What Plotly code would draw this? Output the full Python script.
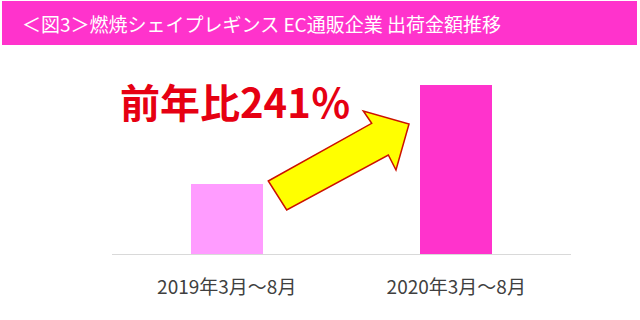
import plotly.graph_objects as go

categories = ["2019年3月～8月", "2020年3月～8月"]
values = [100, 241]
bar_colors = ["#ff9cff", "#ff33cc"]
title_text = "＜図3＞燃焼シェイプレギンス EC通販企業 出荷金額推移"
callout_text = "前年比241％"

W, H = 640, 320
L, R, T, B = 112, 69, 60, 66
PW, PH = W - L - R, H - T - B
YMAX = 276.7

def px(x):
    return (x - L) / PW

def py(y):
    return (H - B - y) / PH

fig = go.Figure()
fig.add_trace(go.Bar(
    x=categories, y=values, width=0.312,
    marker=dict(color=bar_colors, line=dict(width=0)),
    hoverinfo="skip",
))

arrow_px = [(268.3, 181), (371.7, 123.3), (363.3, 111), (409, 124),
            (396, 170), (388.3, 155), (286.7, 210)]
path = "M " + " L ".join(f"{px(x):.4f},{py(y):.4f}" for x, y in arrow_px) + " Z"

fig.update_layout(
    width=W, height=H,
    margin=dict(l=L, r=R, t=T, b=B, pad=0),
    paper_bgcolor="white", plot_bgcolor="white",
    showlegend=False,
    bargap=0,
    xaxis=dict(type="category", range=[-0.5, 1.5], showline=True,
               linecolor="#d9d9d9", linewidth=1, showgrid=False,
               zeroline=False, ticks="", ticklabelstandoff=16,
               tickfont=dict(family="Noto Sans CJK JP", size=19, color="#404040")),
    yaxis=dict(range=[0, YMAX], visible=False, showgrid=False, zeroline=False),
    shapes=[
        dict(type="rect", xref="paper", yref="paper",
             x0=px(2), x1=px(637), y0=py(45), y1=py(1),
             fillcolor="#ff33cc", line=dict(width=0), layer="below"),
        dict(type="path", xref="paper", yref="paper", path=path,
             fillcolor="#ffff00", line=dict(color="#cc1100", width=1.5)),
    ],
    annotations=[
        dict(text=title_text, xref="paper", yref="paper",
             x=px(20), y=py(23), xanchor="left", yanchor="middle",
             showarrow=False,
             font=dict(family="Noto Sans CJK JP", size=19, color="white")),
        dict(text=f"<b>{callout_text}</b>", xref="paper", yref="paper",
             x=px(235.5), y=py(100.5), xanchor="center", yanchor="middle",
             showarrow=False,
             font=dict(family="Noto Sans CJK JP", size=40, color="#e60012")),
    ],
)

fig.write_html("out.html")
